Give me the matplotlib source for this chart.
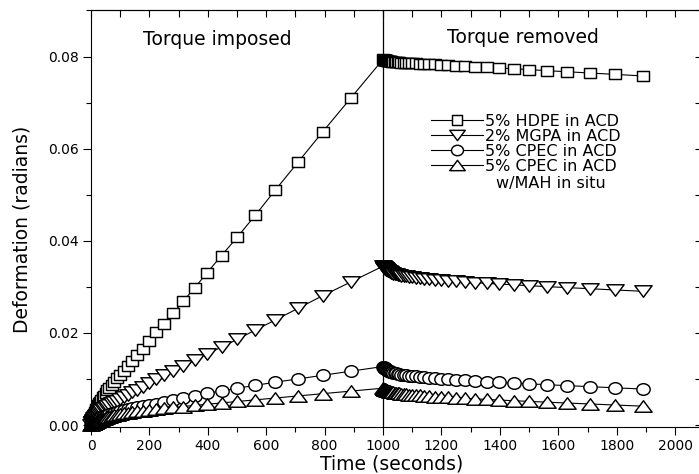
import matplotlib
matplotlib.use("Agg")
import matplotlib.pyplot as plt
from matplotlib.path import Path
from matplotlib.transforms import Affine2D
from matplotlib.ticker import MultipleLocator, FormatStrFormatter

# sample times (s): torque on from 0 to 1000 s, then recovery after removal
time_on = [0.0, 3.16, 3.55, 3.98, 4.47, 5.01, 5.62, 6.31, 7.08, 7.94, 8.91,
           10.0, 11.2, 12.6, 14.1, 15.8, 17.8, 20.0, 22.4, 25.1, 28.2,
           31.6, 35.5, 39.8, 44.7, 50.1, 56.2, 63.1, 70.8, 79.4, 89.1,
           100, 112, 126, 141, 158, 178, 200, 224, 251, 282,
           316, 355, 398, 447, 501, 562, 631, 708, 794, 891, 1000]
time_off = [1003.2, 1003.5, 1004.0, 1004.5, 1005.0, 1005.6, 1006.3, 1007.1, 1007.9, 1008.9,
            1010.0, 1011.2, 1012.6, 1014.1, 1015.8, 1017.8, 1020.0, 1022.4, 1025.1, 1028.2,
            1031.6, 1035.5, 1039.8, 1044.7, 1050.1, 1056.2, 1063.1, 1070.8, 1079.4, 1089.1,
            1100, 1112, 1126, 1141, 1158, 1178, 1200, 1224, 1251, 1282,
            1316, 1355, 1398, 1447, 1501, 1562, 1631, 1708, 1794, 1891]

# deformation (radians)
hdpe_on = [0.0, 0.0007, 0.0008, 0.0009, 0.0010, 0.0011, 0.0013, 0.0014, 0.0016, 0.0017, 0.0019,
           0.0021, 0.0023, 0.0025, 0.0028, 0.0031, 0.0034, 0.0037, 0.0040, 0.0043, 0.0047,
           0.0051, 0.0055, 0.0060, 0.0064, 0.0069, 0.0075, 0.0080, 0.0087, 0.0094, 0.0101,
           0.0108, 0.0118, 0.0128, 0.0139, 0.0151, 0.0166, 0.0182, 0.0201, 0.0220, 0.0243,
           0.0269, 0.0298, 0.0331, 0.0368, 0.0408, 0.0455, 0.0510, 0.0570, 0.0637, 0.0711, 0.0794]
hdpe_off = [0.07932, 0.07931, 0.07930, 0.07928, 0.07927, 0.07926, 0.07924, 0.07923, 0.07921, 0.07919,
            0.07917, 0.07915, 0.07912, 0.07910, 0.07907, 0.07904, 0.07901, 0.07899, 0.07895, 0.07892,
            0.07889, 0.07886, 0.07883, 0.07880, 0.07877, 0.07873, 0.07870, 0.07867, 0.07863, 0.07859,
            0.07855, 0.07851, 0.07846, 0.07841, 0.07835, 0.07828, 0.07820, 0.07812, 0.07802, 0.07791,
            0.07779, 0.07766, 0.07751, 0.07734, 0.07715, 0.07693, 0.07669, 0.07642, 0.07612, 0.07578]

mgpa_on = [0.0, 0.00047, 0.00052, 0.00058, 0.00064, 0.00072, 0.00079, 0.00088, 0.00097, 0.00107, 0.00119,
           0.00130, 0.00143, 0.00157, 0.00172, 0.00188, 0.00204, 0.00222, 0.00240, 0.00259, 0.00279,
           0.00300, 0.00322, 0.00343, 0.00366, 0.00390, 0.00415, 0.00441, 0.00470, 0.00499, 0.00532,
           0.0057, 0.0061, 0.0066, 0.0071, 0.0077, 0.0083, 0.0091, 0.0099, 0.0108, 0.0118,
           0.0128, 0.0141, 0.0155, 0.0169, 0.0186, 0.0206, 0.0228, 0.0253, 0.0281, 0.0311, 0.0345]
mgpa_off = [0.03424, 0.03421, 0.03418, 0.03415, 0.03411, 0.03407, 0.03402, 0.03397, 0.03392, 0.03386,
            0.03380, 0.03373, 0.03366, 0.03358, 0.03350, 0.03342, 0.03333, 0.03324, 0.03315, 0.03306,
            0.03297, 0.03287, 0.03279, 0.03269, 0.03260, 0.03251, 0.03242, 0.03234, 0.03226, 0.03217,
            0.03208, 0.03199, 0.03188, 0.03178, 0.03168, 0.03156, 0.03144, 0.03132, 0.03119, 0.03105,
            0.03091, 0.03076, 0.03060, 0.03043, 0.03024, 0.03004, 0.02983, 0.02959, 0.02932, 0.02903]

cpec_on = [0.0, 0.00029, 0.00032, 0.00035, 0.00039, 0.00043, 0.00048, 0.00053, 0.00058, 0.00063, 0.00070,
           0.00076, 0.00083, 0.00091, 0.00099, 0.00107, 0.00117, 0.00126, 0.00136, 0.00146, 0.00157,
           0.00168, 0.00179, 0.00191, 0.00203, 0.00215, 0.00228, 0.00241, 0.00255, 0.00269, 0.00285,
           0.00302, 0.00319, 0.00339, 0.00360, 0.00384, 0.00409, 0.00437, 0.00467, 0.00505, 0.00550,
           0.00590, 0.00640, 0.00690, 0.00740, 0.00800, 0.00860, 0.00930, 0.01000, 0.01080, 0.01170, 0.01270]
cpec_off = [0.01250, 0.01248, 0.01245, 0.01242, 0.01239, 0.01236, 0.01232, 0.01228, 0.01223, 0.01218,
            0.01213, 0.01207, 0.01201, 0.01195, 0.01188, 0.01181, 0.01174, 0.01166, 0.01159, 0.01151,
            0.01143, 0.01135, 0.01127, 0.01119, 0.01112, 0.01104, 0.01096, 0.01088, 0.01081, 0.01073,
            0.01064, 0.01056, 0.01047, 0.01037, 0.01027, 0.01017, 0.01006, 0.00994, 0.00982, 0.00969,
            0.00956, 0.00942, 0.00927, 0.00911, 0.00894, 0.00875, 0.00855, 0.00833, 0.00808, 0.00781]

mah_on = [0.0, 0.00013, 0.00015, 0.00016, 0.00018, 0.00021, 0.00023, 0.00026, 0.00029, 0.00032, 0.00036,
          0.00040, 0.00044, 0.00049, 0.00054, 0.00060, 0.00067, 0.00074, 0.00082, 0.00090, 0.00099,
          0.00108, 0.00119, 0.00130, 0.00141, 0.00154, 0.00166, 0.00180, 0.00194, 0.00208, 0.00222,
          0.00236, 0.00251, 0.00266, 0.00281, 0.00296, 0.00312, 0.00328, 0.00345, 0.00362, 0.00381,
          0.00402, 0.00425, 0.00451, 0.00479, 0.00511, 0.00546, 0.00586, 0.00631, 0.00681, 0.00737, 0.00800]
mah_off = [0.00786, 0.00784, 0.00782, 0.00780, 0.00778, 0.00776, 0.00773, 0.00771, 0.00768, 0.00764,
           0.00761, 0.00757, 0.00753, 0.00749, 0.00744, 0.00739, 0.00734, 0.00729, 0.00724, 0.00718,
           0.00713, 0.00707, 0.00702, 0.00696, 0.00691, 0.00685, 0.00680, 0.00674, 0.00668, 0.00662,
           0.00656, 0.00649, 0.00642, 0.00635, 0.00627, 0.00618, 0.00609, 0.00600, 0.00590, 0.00579,
           0.00568, 0.00555, 0.00542, 0.00528, 0.00513, 0.00496, 0.00477, 0.00457, 0.00434, 0.00409]

labels = ["5% HDPE in ACD", "2% MGPA in ACD", "5% CPEC in ACD", "5% CPEC in ACD"]

# open symbols, a little wider than tall
square = Path([(-1.1, -1), (1.1, -1), (1.1, 1), (-1.1, 1), (-1.1, -1)], closed=True)
ellipse = Path.unit_circle().transformed(Affine2D().scale(1.15, 1.0))
tri_down = Path([(-1.5, 1), (1.5, 1), (0, -1), (-1.5, 1)], closed=True)
tri_up = Path([(-1.5, -1), (1.5, -1), (0, 1), (-1.5, -1)], closed=True)

fig = plt.figure(figsize=(6.99, 4.74), dpi=100)
ax = fig.add_axes([91 / 699, 47 / 474, 611 / 699, 417 / 474])

ax.axvline(1000, color="black", lw=0.9, zorder=1)

series = [
    (hdpe_on + hdpe_off, square, 8.6),
    (mgpa_on + mgpa_off, tri_down, 12.4),
    (cpec_on + cpec_off, ellipse, 9.6),
    (mah_on + mah_off, tri_up, 12.4),
]
times = time_on + time_off
for (y, marker, size), label in zip(series, labels):
    ax.plot(times, y, color="black", lw=0.8, marker=marker, ms=size,
            mfc="white", mec="black", mew=1.05, label=label, clip_on=False, zorder=2)

ax.set_xlim(0, 2092)
ax.set_ylim(-0.00043, 0.0901)

ax.xaxis.set_major_locator(MultipleLocator(200))
ax.xaxis.set_minor_locator(MultipleLocator(100))
ax.yaxis.set_major_locator(MultipleLocator(0.02))
ax.yaxis.set_minor_locator(MultipleLocator(0.01))
ax.yaxis.set_major_formatter(FormatStrFormatter("%.2f"))
ax.tick_params(which="major", direction="out", length=6, width=0.8, labelsize=10, pad=3)
ax.tick_params(which="minor", direction="out", length=3.5, width=0.8)
for sp in ax.spines.values():
    sp.set_linewidth(0.8)

# inward ticks on the top and right frame
top = ax.secondary_xaxis("top")
top.xaxis.set_major_locator(MultipleLocator(200))
top.xaxis.set_minor_locator(MultipleLocator(100))
top.tick_params(which="both", direction="in", length=5, width=0.8, labeltop=False)
right = ax.secondary_yaxis("right")
right.yaxis.set_major_locator(MultipleLocator(0.02))
right.yaxis.set_minor_locator(MultipleLocator(0.01))
right.tick_params(which="both", direction="in", length=5, width=0.8, labelright=False)

ax.set_xlabel("Time (seconds)", fontsize=13.5)
ax.xaxis.set_label_coords(0.4926, -0.067)
ax.set_ylabel("Deformation (radians)", fontsize=13.5)
ax.yaxis.set_label_coords(-0.097, 0.474)

ax.text(178, 0.0836, "Torque imposed", fontsize=13.5, va="center")
ax.text(1219, 0.0841, "Torque removed", fontsize=13.5, va="center")

leg = ax.legend(loc="upper left", bbox_to_anchor=(0.5567, 0.7506), frameon=False,
                fontsize=11.5, handlelength=3.25, handletextpad=0.15, labelspacing=0.0,
                borderpad=0, borderaxespad=0, numpoints=1, markerscale=0.9)
ax.annotate("w/MAH in situ", xy=(0.5, 0.5), xycoords=leg.get_texts()[3],
            xytext=(0, -12), textcoords="offset points", ha="center", va="center",
            fontsize=11.5, zorder=6)

fig.savefig("out.png", dpi=100)
